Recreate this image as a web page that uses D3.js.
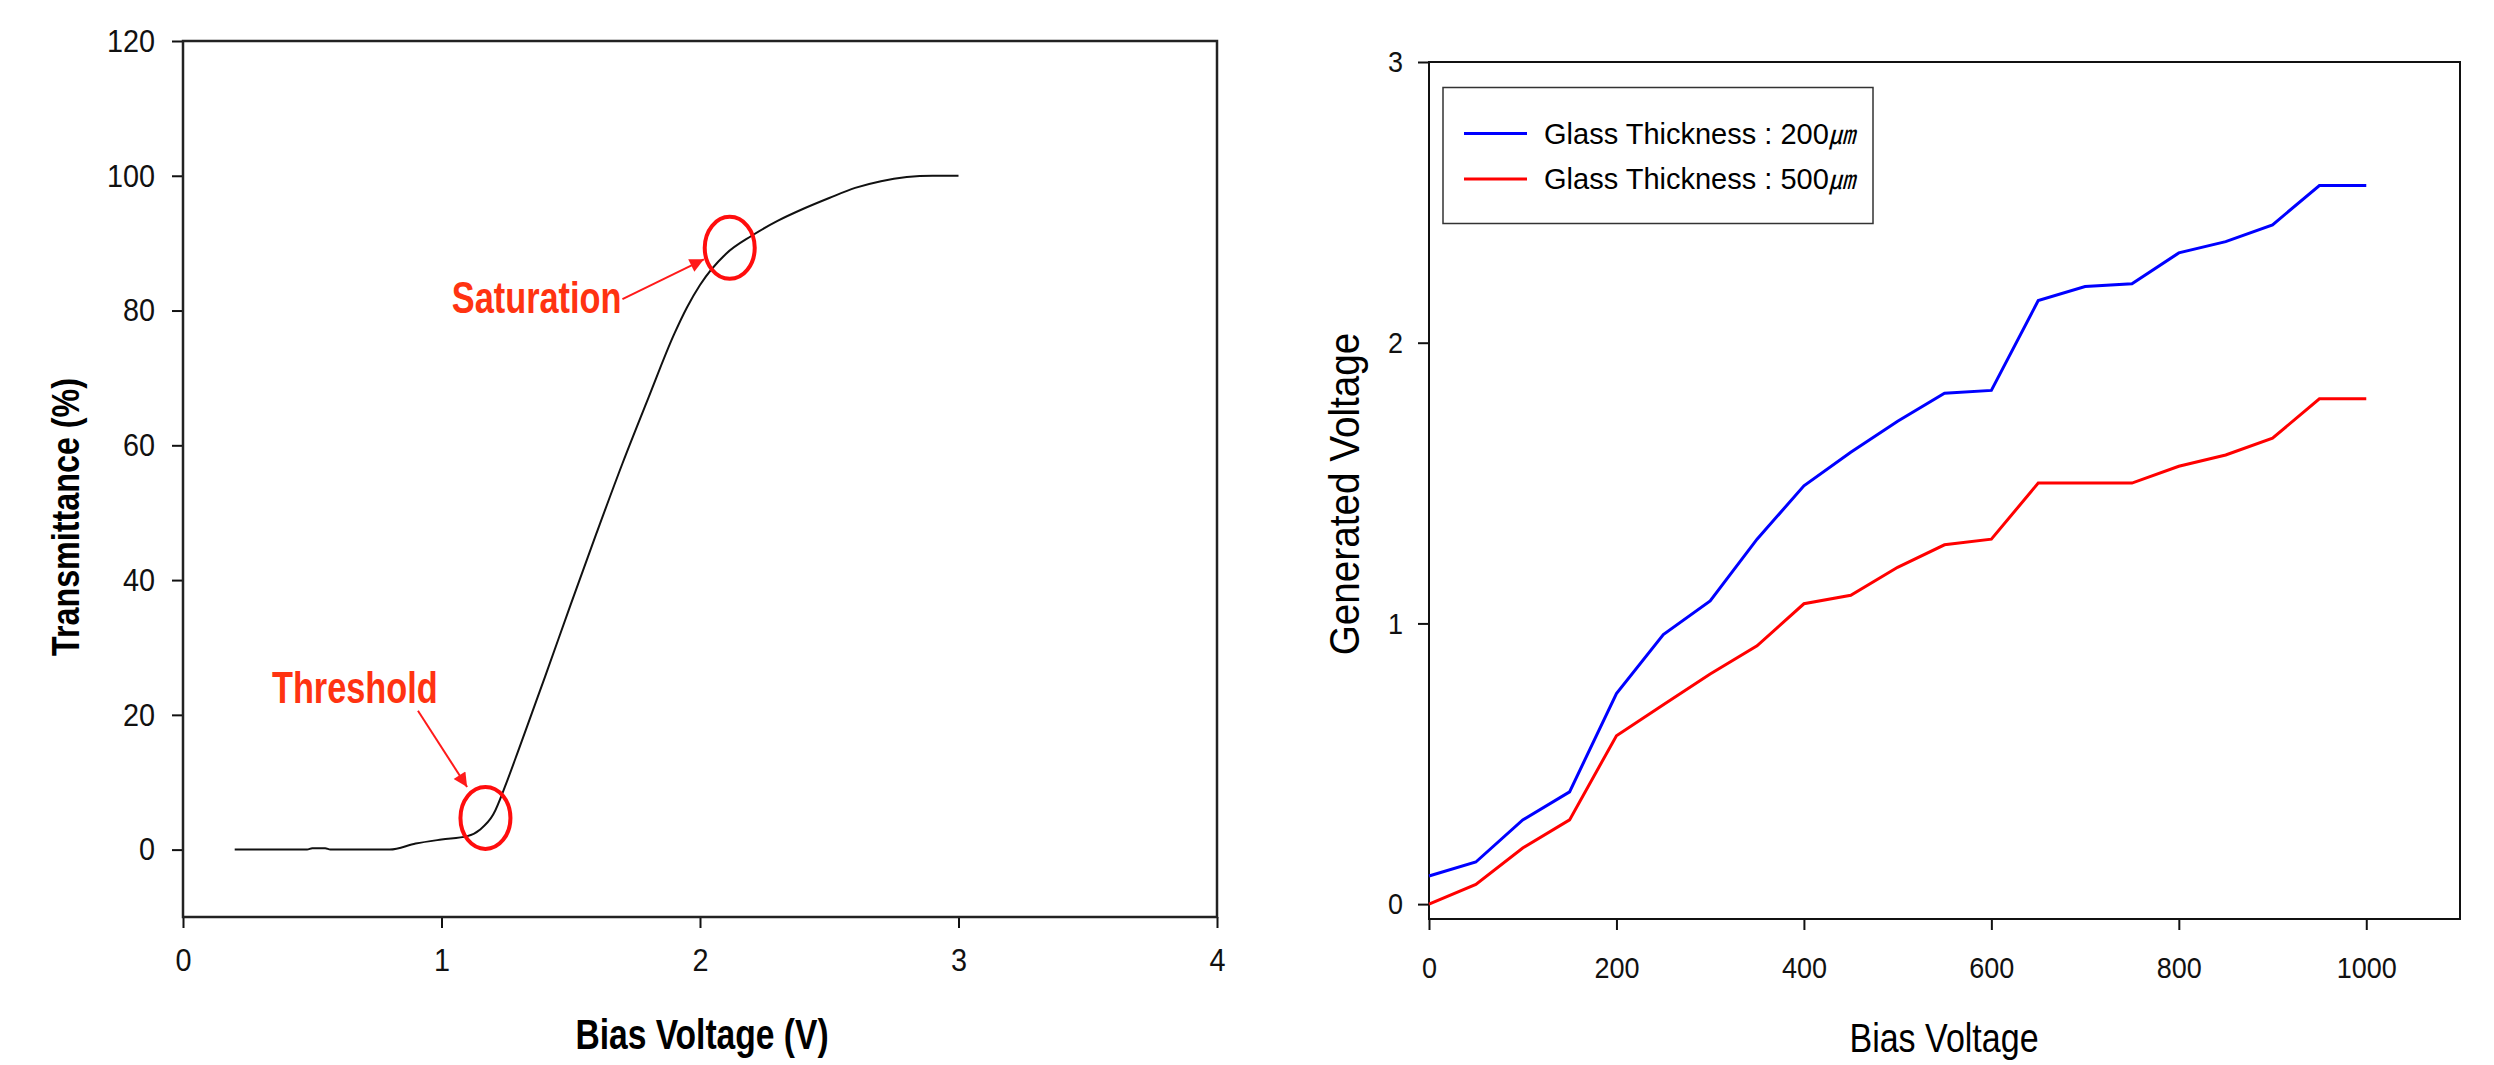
<!DOCTYPE html>
<html>
<head>
<meta charset="utf-8">
<script src="https://cdn.jsdelivr.net/npm/d3@7"></script>
<style>
  body { margin: 0; background: #fff; }
  text { font-family: Arial, "Liberation Sans", sans-serif; }
</style>
</head>
<body>
<div class="chart"></div>
<script>
// ---- left chart: transmittance vs bias voltage ----
var biasV = [0.2, 0.3, 0.4, 0.48, 0.5, 0.55, 0.57, 0.7, 0.8, 0.9, 1.0, 1.1, 1.15, 1.2, 1.25, 1.3,
  1.35, 1.4, 1.5, 1.6, 1.7, 1.8, 1.9, 1.95, 2.0, 2.1, 2.2, 2.3, 2.4, 2.5, 2.6, 2.7, 2.8, 2.9, 3.0];
var transmittance = [0, 0, 0, 0, 0.2, 0.2, 0, 0, 0, 0.9, 1.5, 2.0, 3.0, 5.2, 9.8, 15,
  20.3, 25.6, 36.4, 47, 57.3, 67, 76.5, 80.5, 83.8, 88.4, 91.1, 93.3, 95.1, 96.7, 98.2, 99.2, 99.8, 100, 100];
var leftXTicks = [0, 1, 2, 3, 4];
var leftYTicks = [0, 20, 40, 60, 80, 100, 120];

// annotations in data units: circle centre, label start, arrow start / end
var notes = [
  { label: "Threshold", at: [1.17, 4.7], text: [0.344, 21.8], from: [0.909, 20.6], to: [1.099, 9.3] },
  { label: "Saturation", at: [2.115, 89.3], text: [1.04, 79.6], from: [1.70, 81.7], to: [2.015, 87.6] }
];

// ---- right chart: generated voltage vs bias voltage ----
var biasVoltage = [0, 50, 100, 150, 200, 250, 300, 350, 400, 450, 500,
  550, 600, 650, 700, 750, 800, 850, 900, 950, 1000];
var gen200 = [0.10, 0.15, 0.30, 0.40, 0.75, 0.96, 1.08, 1.30, 1.49, 1.61, 1.72,
  1.82, 1.83, 2.15, 2.20, 2.21, 2.32, 2.36, 2.42, 2.56, 2.56];
var gen500 = [0, 0.07, 0.20, 0.30, 0.60, 0.71, 0.82, 0.92, 1.07, 1.10, 1.20,
  1.28, 1.30, 1.50, 1.50, 1.50, 1.56, 1.60, 1.66, 1.80, 1.80];
var seriesNames = ["Glass Thickness : 200", "Glass Thickness : 500"];
var seriesColors = ["#0000ff", "#ff0000"];
var rightXTicks = [0, 200, 400, 600, 800, 1000];
var rightYTicks = [0, 1, 2, 3];

var svg = d3.select(".chart")
  .append("svg")
  .attr("width", 2494)
  .attr("height", 1065);

// helper for the narrow-looking titles
function label(g, txt, x, y, size, sx, rot, weight, fill, anchor) {
  return g.append("text")
    .attr("transform", `translate(${x},${y}) rotate(${rot}) scale(${sx},1)`)
    .attr("text-anchor", anchor || "middle")
    .style("font-size", size + "px")
    .style("font-weight", weight)
    .style("fill", fill || "#000")
    .text(txt);
}

// squeeze tick labels a little around their own anchor
function styleAxis(g, size) {
  g.select(".domain").remove();
  g.selectAll(".tick line").attr("stroke", "#111").attr("stroke-width", 2);
  g.selectAll(".tick text")
    .style("font-size", size + "px")
    .style("fill", "#111")
    .attr("transform", function () {
      var tx = +d3.select(this).attr("x") || 0;
      return `translate(${tx},0) scale(0.9,1) translate(${-tx},0)`;
    });
}

var intFmt = d3.format("d");

// ================= LEFT =================
var xL = d3.scaleLinear().domain([0, 4]).range([183, 1217]);
var yL = d3.scaleLinear().domain([-10, 120]).range([917, 41]);

var left = svg.append("g");

left.append("g")
  .attr("transform", "translate(0,917)")
  .call(d3.axisBottom(xL).tickValues(leftXTicks).tickFormat(intFmt)
    .tickSize(11).tickSizeOuter(0).tickPadding(20))
  .call(styleAxis, 32);

left.append("g")
  .attr("transform", "translate(183,0)")
  .call(d3.axisLeft(yL).tickValues(leftYTicks).tickFormat(intFmt)
    .tickSize(11).tickSizeOuter(0).tickPadding(17))
  .call(styleAxis, 32);

left.append("rect")
  .attr("x", xL(0)).attr("y", yL(120))
  .attr("width", xL(4) - xL(0)).attr("height", yL(-10) - yL(120))
  .attr("fill", "none").attr("stroke", "#222").attr("stroke-width", 2.5);

var curve = d3.line()
  .x((d, i) => xL(biasV[i]))
  .y(d => yL(d))
  .curve(d3.curveMonotoneX);

left.append("path")
  .datum(transmittance)
  .attr("d", curve)
  .attr("fill", "none")
  .attr("stroke", "#111")
  .attr("stroke-width", 2);

svg.append("defs").append("marker")
  .attr("id", "head")
  .attr("viewBox", "0 0 10 10")
  .attr("refX", 10).attr("refY", 5)
  .attr("markerWidth", 9).attr("markerHeight", 7)
  .attr("markerUnits", "strokeWidth")
  .attr("orient", "auto")
  .append("path").attr("d", "M0,0 L10,5 L0,10 z").attr("fill", "#ff1a1a");

notes.forEach(function (n) {
  left.append("ellipse")
    .attr("cx", xL(n.at[0])).attr("cy", yL(n.at[1]))
    .attr("rx", 25).attr("ry", 31)
    .attr("fill", "none").attr("stroke", "#ff0d0d").attr("stroke-width", 4);
  left.append("line")
    .attr("x1", xL(n.from[0])).attr("y1", yL(n.from[1]))
    .attr("x2", xL(n.to[0])).attr("y2", yL(n.to[1]))
    .attr("stroke", "#ff1a1a").attr("stroke-width", 2)
    .attr("marker-end", "url(#head)");
  label(left, n.label, xL(n.text[0]), yL(n.text[1]), 44, 0.78, 0, "bold", "#ff3311", "start");
});

label(left, "Bias Voltage (V)", 702, 1049, 42, 0.8, 0, "bold");
label(left, "Transmittance (%)", 79, 517, 38, 0.85, -90, "bold");

// ================= RIGHT =================
var xR = d3.scaleLinear().domain([0, 1100]).range([1429, 2460]);
var yR = d3.scaleLinear().domain([-0.053, 3]).range([919, 62]);

var right = svg.append("g");

right.append("g")
  .attr("transform", "translate(0,919)")
  .call(d3.axisBottom(xR).tickValues(rightXTicks).tickFormat(intFmt)
    .tickSize(11).tickSizeOuter(0).tickPadding(27))
  .call(styleAxis, 30);

right.append("g")
  .attr("transform", "translate(1429,0)")
  .call(d3.axisLeft(yR).tickValues(rightYTicks).tickFormat(intFmt)
    .tickSize(11).tickSizeOuter(0).tickPadding(15))
  .call(styleAxis, 30);

right.append("rect")
  .attr("x", xR(0)).attr("y", yR(3))
  .attr("width", xR(1100) - xR(0)).attr("height", yR(-0.053) - yR(3))
  .attr("fill", "none").attr("stroke", "#111").attr("stroke-width", 2);

var series = [gen200, gen500];
var vline = d3.line()
  .x((d, i) => xR(biasVoltage[i]))
  .y(d => yR(d));

right.selectAll(".series")
  .data(series)
  .enter()
  .append("path")
  .attr("class", "series")
  .attr("d", vline)
  .attr("fill", "none")
  .attr("stroke", (d, i) => seriesColors[i])
  .attr("stroke-width", 3);

// legend
var legend = right.append("g").attr("transform", "translate(1443,87.5)");
legend.append("rect")
  .attr("width", 430).attr("height", 136)
  .attr("fill", "#fff").attr("stroke", "#333").attr("stroke-width", 1.5);

seriesNames.forEach(function (name, i) {
  var yy = 46 + i * 45.5;
  legend.append("line")
    .attr("x1", 21).attr("x2", 84)
    .attr("y1", yy).attr("y2", yy)
    .attr("stroke", seriesColors[i]).attr("stroke-width", 3);
  var t = legend.append("text")
    .attr("x", 101).attr("y", yy + 10)
    .style("font-size", "29px")
    .text(name);
  t.append("tspan")
    .style("font-family", "'Noto Sans CJK KR'")
    .style("font-size", "26px")
    .style("font-style", "italic")
    .text("\u339b");
});

label(right, "Bias Voltage", 1944, 1052, 41, 0.83, 0, "normal");
label(right, "Generated Voltage", 1359, 494, 43, 0.9, -90, "normal");
</script>
</body>
</html>
